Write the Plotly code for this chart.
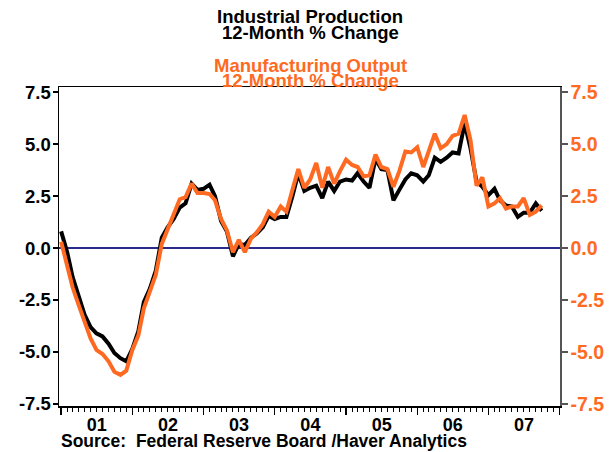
import plotly.graph_objects as go
import pandas as pd

# Monthly data, Jan 2001 - Oct 2007 (12-month % change)
months = pd.date_range("2001-01-01", periods=82, freq="MS")

industrial_production = [
    0.8, -0.2, -1.4, -2.3, -3.2, -3.8, -4.1, -4.25, -4.6, -5.05, -5.3, -5.45,
    -4.85, -4.0, -2.6, -1.95, -1.1, 0.5, 1.0, 1.4, 1.95, 2.15, 3.1, 2.8,
    2.85, 3.05, 2.5, 1.3, 0.8, -0.4, 0.2, 0.15, 0.5, 0.7, 1.0, 1.55,
    1.4, 1.5, 1.5, 2.5, 3.6, 2.75, 2.9, 3.0, 2.4, 3.2, 2.75, 3.2,
    3.3, 3.25, 3.6, 3.2, 2.9, 4.3, 3.8, 3.75, 2.3, 2.8, 3.3, 3.6,
    3.5, 3.2, 3.5, 4.35, 4.15, 4.35, 4.6, 4.55, 6.0, 4.8, 3.2, 2.95,
    2.55, 2.85, 2.3, 2.05, 2.0, 1.5, 1.7, 1.7, 2.15, 1.8,
]

manufacturing_output = [
    0.3, -0.8, -1.9, -2.75, -3.5, -4.35, -4.9, -5.1, -5.45, -5.95, -6.1, -5.9,
    -4.9, -4.2, -2.9, -2.1, -1.3, 0.2, 0.9, 1.6, 2.35, 2.45, 3.1, 2.65,
    2.65, 2.6, 2.3, 1.4, 0.85, -0.2, 0.4, -0.2, 0.45, 0.75, 1.15, 1.75,
    1.5, 2.0, 1.75, 2.8, 3.8, 2.9, 3.3, 4.1, 2.9, 3.9, 3.1, 3.7,
    4.25, 4.0, 3.9, 3.45, 3.5, 4.5, 3.9, 3.8, 2.95, 3.7, 4.65, 4.6,
    4.85, 3.9, 4.6, 5.5, 4.8, 5.0, 5.4, 5.5, 6.4, 5.2, 3.0, 3.4,
    2.0, 2.15, 2.4, 1.9, 2.0, 2.0, 2.4, 1.6, 1.75, 2.05,
]

y_ticks = [-7.5, -5.0, -2.5, 0.0, 2.5, 5.0, 7.5]
y_tick_labels = ["-7.5", "-5.0", "-2.5", "0.0", "2.5", "5.0", "7.5"]

ORANGE = "#FF6A22"
FONT = "Liberation Sans, Arial, sans-serif"

fig = go.Figure()
fig.add_trace(go.Scatter(x=months, y=manufacturing_output, mode="lines",
                         line=dict(color=ORANGE, width=4), yaxis="y2",
                         name="Manufacturing Output"))
fig.add_trace(go.Scatter(x=months, y=industrial_production, mode="lines",
                         line=dict(color="black", width=4),
                         name="Industrial Production"))

W, H = 611, 452
L, R, T, B = 59, 51, 87, 46
ph = H - T - B


def py(p):
    return (H - B - p) / ph


yr = [-7.6, 7.75]
fig.update_layout(
    width=W, height=H, showlegend=False,
    margin=dict(l=L, r=R, t=T, b=B, autoexpand=False),
    paper_bgcolor="white", plot_bgcolor="white",
    font=dict(family=FONT, color="black"),
    xaxis=dict(
        type="date", range=["2000-12-21", "2008-01-03"], automargin=False,
        showgrid=False, zeroline=False,
        showline=True, linecolor="black", linewidth=1.5, mirror=True,
        ticks="outside", ticklen=7, tickwidth=1.5, tickcolor="black",
        dtick="M12", tick0="2001-01-01", tickformat="%y",
        ticklabelmode="period", ticklabelstandoff=-5,
        tickfont=dict(size=18, family=FONT, color="black", weight="bold"),
        minor=dict(dtick="M1", ticks="outside", ticklen=4, tickwidth=1,
                   tickcolor="black", showgrid=False),
    ),
    yaxis=dict(
        range=yr, tickvals=y_ticks, ticktext=y_tick_labels, automargin=False,
        showgrid=False, zeroline=True, zerolinecolor="#2B2B8C", zerolinewidth=1.5,
        showline=True, linecolor="black", linewidth=1.5,
        ticks="outside", ticklen=5, tickwidth=1.5, tickcolor="black",
        ticklabelstandoff=-2,
        tickfont=dict(size=18.5, family=FONT, color="black", weight="bold"),
    ),
    yaxis2=dict(
        range=yr, tickvals=y_ticks, ticktext=y_tick_labels, automargin=False,
        overlaying="y", side="right",
        showgrid=False, zeroline=False,
        showline=True, linecolor="#555555", linewidth=1.5,
        ticks="outside", ticklen=6, tickwidth=1.5, tickcolor="#555555",
        ticklabelstandoff=-1,
        tickfont=dict(size=19.5, family=FONT, color=ORANGE, weight="bold"),
    ),
)

titles = [
    ("Industrial Production", 16, "black"),
    ("12-Month % Change", 32, "black"),
    ("Manufacturing Output", 65, ORANGE),
    ("12-Month % Change", 80, ORANGE),
]
for txt, ypx, col in titles:
    fig.add_annotation(text=txt, xref="paper", yref="paper",
                       x=(310 - L) / (W - L - R), y=py(ypx),
                       xanchor="center", yanchor="middle", showarrow=False,
                       font=dict(size=18.5, family=FONT, color=col, weight="bold"))

fig.add_annotation(text="Source:  Federal Reserve Board /Haver Analytics",
                   xref="paper", yref="paper", x=0, y=py(441),
                   xanchor="left", yanchor="middle", showarrow=False,
                   font=dict(size=17.5, family=FONT, color="black", weight="bold"))

fig.write_html("out.html",
               config={"displayModeBar": False, "staticPlot": True},
               post_script="document.body.style.margin='0';"
                           "document.body.style.overflow='hidden';")
